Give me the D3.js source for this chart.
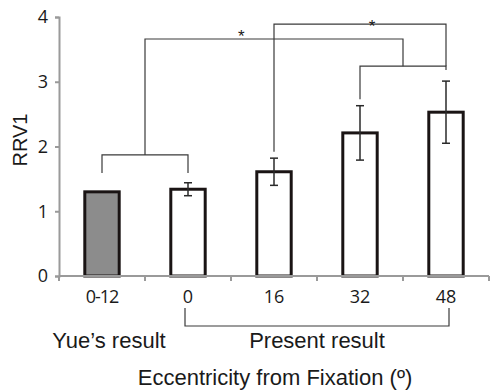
<!DOCTYPE html>
<html>
<head>
<meta charset="utf-8">
<script src="https://cdn.jsdelivr.net/npm/d3@7"></script>
<style>
  body { margin: 0; background: #fff; }
  svg text { fill: #1a1a1a; }
</style>
</head>
<body>
<div class="bar-chart"></div>
<script>
// data
var categories = ["0-12", "0", "16", "32", "48"];
var values = [1.30, 1.34, 1.61, 2.21, 2.53];
var errors = [0, 0.10, 0.21, 0.42, 0.48];
var fills = ["#8c8c8c", "#fff", "#fff", "#fff", "#fff"];
var yTicks = [0, 1, 2, 3, 4];

// significance brackets, x in category index units, y in RRV1 units
var bracketPaths = [
  [[0, 1.59], [0, 1.87], [1, 1.87], [1, 1.59]],
  [[0.5, 1.87], [0.5, 3.66], [3.5, 3.66], [3.5, 3.24]],
  [[3, 2.73], [3, 3.24], [4, 3.24], [4, 3.18]],
  [[2, 1.92], [2, 3.89], [4, 3.89], [4, 3.24]]
];
var stars = [[1.62, 3.80], [3.14, 3.95]];

var W = 490, H = 392;
var margin = {top: 17, right: 1, bottom: 116, left: 59};

var svg = d3.select(".bar-chart").append("svg")
    .attr("width", W)
    .attr("height", H);

var x = d3.scaleBand().domain(categories)
    .range([margin.left, W - margin.right])
    .paddingInner(0.6).paddingOuter(0.3);
var y = d3.scaleLinear().domain([0, 4]).range([H - margin.bottom, margin.top]);

var step = x.step();
function cx(i) { return x(categories[0]) + x.bandwidth() / 2 + i * step; }

var axisColor = "#9a9a9a";

// y axis
var gy = svg.append("g")
    .attr("transform", "translate(" + margin.left + ",0)")
    .call(d3.axisLeft(y).tickValues(yTicks).tickSize(4).tickPadding(7).tickFormat(d3.format("d")));
gy.select(".domain").attr("stroke", axisColor).attr("stroke-width", 2);
gy.selectAll(".tick line").attr("stroke", axisColor).attr("stroke-width", 2);
gy.selectAll(".tick text")
    .attr("font-family", "Open Sans, sans-serif")
    .attr("font-size", 18).attr("fill", "#1a1a1a");

// bars
svg.selectAll(".bar")
    .data(values)
    .enter().append("rect")
    .attr("class", "bar")
    .attr("x", function(d, i) { return x(categories[i]); })
    .attr("y", function(d) { return y(d); })
    .attr("width", x.bandwidth())
    .attr("height", function(d) { return y(0) - y(d); })
    .attr("fill", function(d, i) { return fills[i]; })
    .attr("stroke", "#1a1414")
    .attr("stroke-width", 3);

// x axis (ticks between categories)
var gx = svg.append("g").attr("transform", "translate(0," + y(0) + ")");
gx.append("line")
    .attr("x1", margin.left).attr("x2", W - margin.right)
    .attr("stroke", axisColor).attr("stroke-width", 2);
gx.selectAll(".sep")
    .data(d3.range(categories.length + 1))
    .enter().append("line")
    .attr("x1", function(i) { return cx(i - 0.5); })
    .attr("x2", function(i) { return cx(i - 0.5); })
    .attr("y1", 0).attr("y2", 5)
    .attr("stroke", axisColor).attr("stroke-width", 2);
gx.selectAll(".lab")
    .data(categories)
    .enter().append("text")
    .attr("x", function(d, i) { return cx(i); })
    .attr("y", 27)
    .attr("text-anchor", "middle")
    .attr("font-family", "Open Sans, sans-serif")
    .attr("font-size", 18)
    .attr("letter-spacing", function(d) { return d === "0-12" ? -1 : 0; })
    .text(function(d) { return d; });

// error bars
var eb = svg.selectAll(".err")
    .data(values.map(function(v, i) { return {v: v, e: errors[i], i: i}; }).filter(function(d) { return d.e > 0; }))
    .enter().append("g")
    .attr("stroke", "#2a2a2a").attr("stroke-width", 1.5);
eb.append("line")
    .attr("x1", function(d) { return cx(d.i); }).attr("x2", function(d) { return cx(d.i); })
    .attr("y1", function(d) { return y(d.v - d.e); }).attr("y2", function(d) { return y(d.v + d.e); });
[-1, 1].forEach(function(s) {
  eb.append("line")
      .attr("x1", function(d) { return cx(d.i) - 4; }).attr("x2", function(d) { return cx(d.i) + 4; })
      .attr("y1", function(d) { return y(d.v + s * d.e); }).attr("y2", function(d) { return y(d.v + s * d.e); });
});

// brackets
var line = d3.line()
    .x(function(p) { return cx(p[0]); })
    .y(function(p) { return y(p[1]); });
svg.selectAll(".bracket")
    .data(bracketPaths)
    .enter().append("path")
    .attr("d", line)
    .attr("fill", "none")
    .attr("stroke", "#3a3a3a")
    .attr("stroke-width", 1.2);

svg.selectAll(".star")
    .data(stars)
    .enter().append("text")
    .attr("x", function(d) { return cx(d[0]); })
    .attr("y", function(d) { return y(d[1]); })
    .attr("text-anchor", "middle")
    .attr("dy", "0.7em")
    .attr("font-family", "Liberation Sans, sans-serif")
    .attr("font-size", 17)
    .attr("fill", "#1a1a1a")
    .text("*");

// group bracket under x axis
var by0 = y(0) + 32, by1 = y(0) + 50;
svg.append("path")
    .attr("d", "M" + (cx(1) - 3) + "," + by0 + "V" + by1 + "H" + (cx(4) + 3) + "V" + by0)
    .attr("fill", "none")
    .attr("stroke", "#3a3a3a")
    .attr("stroke-width", 1.2);

var labelFont = "Liberation Sans, Arial, sans-serif";
svg.append("text")
    .attr("x", 109).attr("y", 348)
    .attr("text-anchor", "middle")
    .attr("font-family", labelFont).attr("font-size", 22)
    .text("Yue\u2019s result");
svg.append("text")
    .attr("x", 317).attr("y", 348)
    .attr("text-anchor", "middle")
    .attr("font-family", labelFont).attr("font-size", 22)
    .text("Present result");
svg.append("text")
    .attr("x", 275).attr("y", 385)
    .attr("text-anchor", "middle")
    .attr("font-family", labelFont).attr("font-size", 22)
    .text("Eccentricity from Fixation (\u00ba)");

svg.append("text")
    .attr("transform", "translate(27," + y(2.1) + ") rotate(-90)")
    .attr("text-anchor", "middle")
    .attr("font-family", labelFont).attr("font-size", 20)
    .text("RRV1");
</script>
</body>
</html>
